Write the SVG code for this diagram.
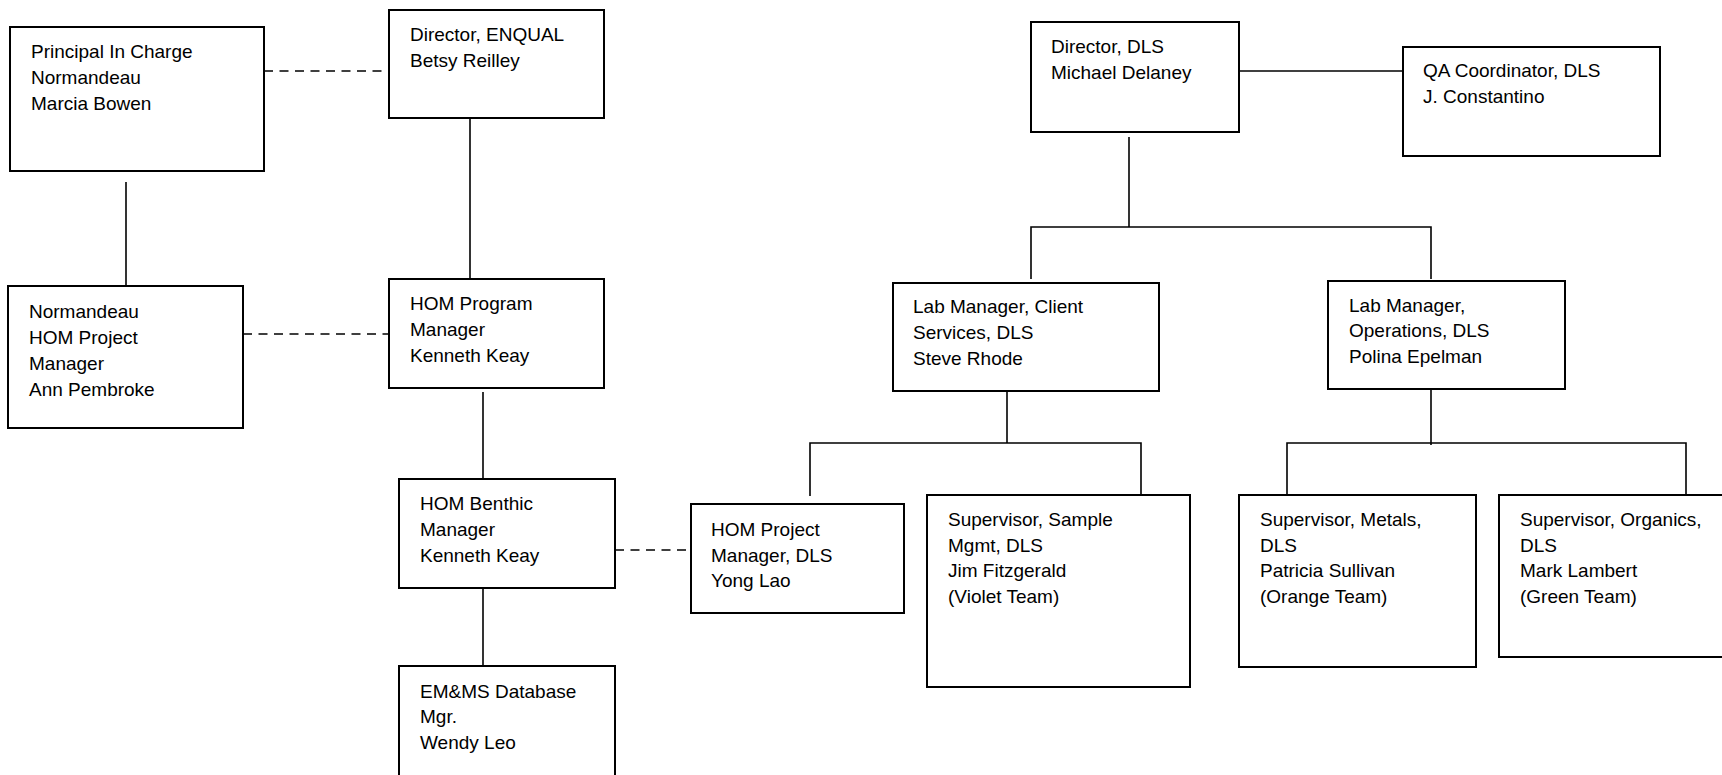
<svg xmlns="http://www.w3.org/2000/svg" width="1722" height="775" viewBox="0 0 1722 775">
<style>
.box{fill:#fff;stroke:#000;stroke-width:2}
.ln{fill:none;stroke:#000;stroke-width:1.6}
.dash{fill:none;stroke:#000;stroke-width:1.6;stroke-dasharray:9 6.5}
text{font-family:"Liberation Sans",Arial,sans-serif;font-size:19px;fill:#000}
</style>
<rect width="1722" height="775" fill="#fff"/>
<g id="connectors">
<line class="dash" x1="264" y1="71" x2="389" y2="71"/>
<line class="ln" x1="470" y1="118" x2="470" y2="279"/>
<line class="ln" x1="126" y1="182" x2="126" y2="286"/>
<line class="dash" x1="243" y1="334" x2="389" y2="334"/>
<line class="ln" x1="483" y1="392" x2="483" y2="479"/>
<line class="ln" x1="483" y1="588" x2="483" y2="666"/>
<line class="dash" x1="615" y1="550" x2="691" y2="550"/>
<line class="ln" x1="1239" y1="71" x2="1403" y2="71"/>
<line class="ln" x1="1129" y1="137" x2="1129" y2="227"/>
<polyline class="ln" points="1031,279 1031,227 1431,227 1431,279"/>
<line class="ln" x1="1007" y1="392" x2="1007" y2="443"/>
<polyline class="ln" points="810,496 810,443 1141,443 1141,495"/>
<line class="ln" x1="1431" y1="390" x2="1431" y2="445"/>
<polyline class="ln" points="1287,495 1287,443 1686,443 1686,495"/>
</g>
<g id="principal">
<rect class="box" x="10" y="27" width="254" height="144"/>
<text x="31" y="58">Principal In Charge</text>
<text x="31" y="84">Normandeau</text>
<text x="31" y="110">Marcia Bowen</text>
</g>
<g id="director-enqual">
<rect class="box" x="389" y="10" width="215" height="108"/>
<text x="410" y="41">Director, ENQUAL</text>
<text x="410" y="67">Betsy Reilley</text>
</g>
<g id="normandeau-pm">
<rect class="box" x="8" y="286" width="235" height="142"/>
<text x="29" y="318">Normandeau</text>
<text x="29" y="344">HOM Project</text>
<text x="29" y="370">Manager</text>
<text x="29" y="396">Ann Pembroke</text>
</g>
<g id="hom-program">
<rect class="box" x="389" y="279" width="215" height="109"/>
<text x="410" y="310">HOM Program</text>
<text x="410" y="336">Manager</text>
<text x="410" y="362">Kenneth Keay</text>
</g>
<g id="hom-benthic">
<rect class="box" x="399" y="479" width="216" height="109"/>
<text x="420" y="510">HOM Benthic</text>
<text x="420" y="536">Manager</text>
<text x="420" y="562">Kenneth Keay</text>
</g>
<g id="emms">
<rect class="box" x="399" y="666" width="216" height="115"/>
<text x="420" y="698">EM&amp;MS Database</text>
<text x="420" y="723">Mgr.</text>
<text x="420" y="749">Wendy Leo</text>
</g>
<g id="hom-project-dls">
<rect class="box" x="691" y="504" width="213" height="109"/>
<text x="711" y="536">HOM Project</text>
<text x="711" y="562">Manager, DLS</text>
<text x="711" y="587">Yong Lao</text>
</g>
<g id="director-dls">
<rect class="box" x="1031" y="22" width="208" height="110"/>
<text x="1051" y="53">Director, DLS</text>
<text x="1051" y="79">Michael Delaney</text>
</g>
<g id="qa">
<rect class="box" x="1403" y="47" width="257" height="109"/>
<text x="1423" y="77">QA Coordinator, DLS</text>
<text x="1423" y="103">J. Constantino</text>
</g>
<g id="lab-client">
<rect class="box" x="893" y="283" width="266" height="108"/>
<text x="913" y="313">Lab Manager, Client</text>
<text x="913" y="339">Services, DLS</text>
<text x="913" y="365">Steve Rhode</text>
</g>
<g id="lab-ops">
<rect class="box" x="1328" y="281" width="237" height="108"/>
<text x="1349" y="312">Lab Manager,</text>
<text x="1349" y="337">Operations, DLS</text>
<text x="1349" y="363">Polina Epelman</text>
</g>
<g id="sample-mgmt">
<rect class="box" x="927" y="495" width="263" height="192"/>
<text x="948" y="526">Supervisor, Sample</text>
<text x="948" y="552">Mgmt, DLS</text>
<text x="948" y="577">Jim Fitzgerald</text>
<text x="948" y="603">(Violet Team)</text>
</g>
<g id="metals">
<rect class="box" x="1239" y="495" width="237" height="172"/>
<text x="1260" y="526">Supervisor, Metals,</text>
<text x="1260" y="552">DLS</text>
<text x="1260" y="577">Patricia Sullivan</text>
<text x="1260" y="603">(Orange Team)</text>
</g>
<g id="organics">
<rect class="box" x="1499" y="495" width="240" height="162"/>
<text x="1520" y="526">Supervisor, Organics,</text>
<text x="1520" y="552">DLS</text>
<text x="1520" y="577">Mark Lambert</text>
<text x="1520" y="603">(Green Team)</text>
</g>
</svg>
